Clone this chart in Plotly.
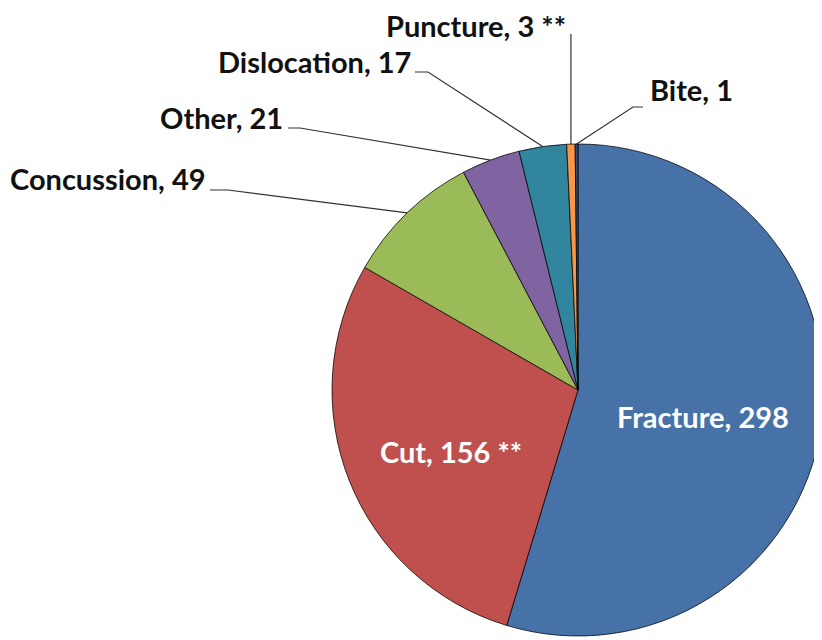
import numpy as np
import plotly.graph_objects as go

injuries = ["Fracture", "Cut", "Concussion", "Other", "Dislocation", "Puncture", "Bite"]
counts = [298, 156, 49, 21, 17, 3, 1]
notes = ["", " **", "", "", "", " **", ""]
colors = ["#4672A8", "#C0504D", "#9BBB59", "#8064A2", "#31859C", "#F79646", "#2C4D75"]

W, H = 822, 640
OFF = 8                      # default body margin of the html page
CX, CY, R = 578, 390, 246    # pie centre / radius in page px

# label placement in page px: (x, y, xanchor, leader start points)
label_pos = {
    "Fracture":    (703, 416, "center", None),
    "Cut":         (451, 451, "center", None),
    "Concussion":  (208, 178, "right", [(210, 190), (228, 190)]),
    "Other":       (285, 117, "right", [(288, 128), (300, 128)]),
    "Dislocation": (413, 61, "right", [(415, 72), (428, 72)]),
    "Puncture":    (568, 25, "right", [(None, 34)]),
    "Bite":        (648, 89, "left", [(643, 107), (633, 107)]),
}

fig = go.Figure()

fig.add_trace(go.Pie(
    labels=injuries, values=counts, sort=False, direction="clockwise",
    marker=dict(colors=colors, line=dict(color="rgba(0,0,0,0.75)", width=1)),
    textinfo="none", textposition="inside", hoverinfo="label+value", showlegend=False,
    domain=dict(x=[(CX - OFF - R) / W, min(1, (CX - OFF + R) / W)],
                y=[1 - (CY - OFF + R) / H, 1 - (CY - OFF - R) / H]),
))

# slice mid angles (clockwise from 12 o'clock)
total = sum(counts)
cum = np.cumsum([0] + counts)
mids = [(cum[i] + counts[i] / 2) / total * 2 * np.pi for i in range(len(counts))]

annotations = []
for i, name in enumerate(injuries):
    x, y, xa, lead = label_pos[name]
    inside = lead is None
    annotations.append(dict(
        x=x, y=y, xref="x", yref="y", xanchor=xa, yanchor="middle",
        text=f"<b>{name}, {counts[i]}{notes[i]}</b>", showarrow=False,
        font=dict(family="Lato", size=29, color="white" if inside else "#111111"),
    ))
    if lead:
        ex = CX + R * np.sin(mids[i])
        ey = CY - R * np.cos(mids[i])
        xs = [p[0] if p[0] is not None else ex for p in lead] + [ex]
        ys = [p[1] for p in lead] + [ey]
        fig.add_trace(go.Scatter(x=xs, y=ys, mode="lines", showlegend=False, hoverinfo="skip",
                                 line=dict(color="#333333", width=1.2)))

# cut-off footnote text at the page bottom
annotations.append(dict(x=OFF, y=631, xref="x", yref="y", xanchor="left", yanchor="top",
                        text="546", showarrow=False, font=dict(family="Lato", size=24, color="#111111")))
annotations.append(dict(x=757, y=634, xref="x", yref="y", xanchor="left", yanchor="top",
                        text="**", showarrow=False, font=dict(family="Lato", size=24, color="#111111")))

fig.update_layout(
    width=W, height=H,
    margin=dict(l=0, r=0, t=0, b=0),
    paper_bgcolor="white", plot_bgcolor="rgba(0,0,0,0)",
    xaxis=dict(range=[OFF, W + OFF], visible=False, fixedrange=True),
    yaxis=dict(range=[H + OFF, OFF], visible=False, fixedrange=True),
    annotations=annotations,
)

fig.write_html("out.html")
